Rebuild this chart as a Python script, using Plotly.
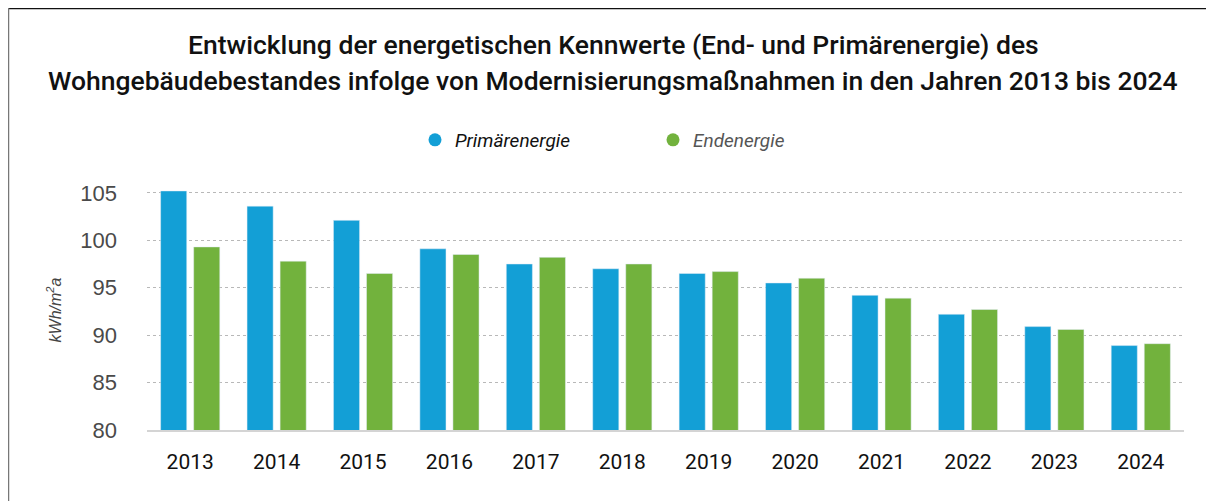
import plotly.graph_objects as go

years = ["2013", "2014", "2015", "2016", "2017", "2018", "2019", "2020", "2021", "2022", "2023", "2024"]
primaer = [105.2, 103.6, 102.1, 99.1, 97.5, 97.0, 96.5, 95.5, 94.2, 92.2, 90.9, 88.9]
enden = [99.3, 97.8, 96.5, 98.5, 98.2, 97.5, 96.7, 96.0, 93.9, 92.7, 90.6, 89.1]
y_ticks = [80, 85, 90, 95, 100, 105]
title_lines = [
    "Entwicklung der energetischen Kennwerte (End- und Primärenergie) des",
    "Wohngebäudebestandes infolge von Modernisierungsmaßnahmen in den Jahren 2013 bis 2024",
]

blue = "#139fd6"
green = "#72b23d"

# figure sits inside the page body (8px margin), so sizes are page - 8
W, H = 1206, 493
L, R, T, B = 139, 30, 182, 71
PW, PH = W - L - R, H - T - B

fig = go.Figure()
fig.add_trace(go.Bar(x=years, y=primaer, marker_color=blue, showlegend=False, name="Primärenergie"))
fig.add_trace(go.Bar(x=years, y=enden, marker_color=green, showlegend=False, name="Endenergie"))
fig.add_trace(go.Scatter(x=[None], y=[None], mode="markers",
                         marker=dict(color=blue, size=13, symbol="circle"),
                         name="<i><span style='color:#111'>Primärenergie</span></i>"))
fig.add_trace(go.Scatter(x=[None], y=[None], mode="markers",
                         marker=dict(color=green, size=13, symbol="circle"),
                         name="<i><span style='color:#555'>Endenergie</span></i>"))

def py(fig_y):
    return (H - B - fig_y) / PH

def px_(fig_x):
    return (fig_x - L) / PW

annotations = []
for line, cy in zip(title_lines, [45, 80]):
    annotations.append(dict(text=line, xref="paper", yref="paper", x=px_(605), y=py(cy - 8),
                            xanchor="center", yanchor="middle", showarrow=False,
                            font=dict(family="Roboto", size=26.5, color="#111", weight=500)))

fig.update_layout(
    width=W, height=H,
    margin=dict(l=L, r=R, t=T, b=B),
    paper_bgcolor="white", plot_bgcolor="white",
    barmode="group", bargap=0.235, bargroupgap=0.21,
    annotations=annotations,
    legend=dict(orientation="h", xref="container", yref="container",
                x=407 / W, xanchor="left", y=1 - 132 / H, yanchor="middle",
                font=dict(family="Roboto", size=19, color="#111"),
                entrywidth=193, itemclick=False),
    xaxis=dict(type="category", showgrid=False, ticks="",
               tickfont=dict(family="Roboto", size=21, color="#111"),
               ticklabelstandoff=12,
               showline=True, linecolor="#d4d4d4", linewidth=2),
    yaxis=dict(range=[80, 105.3], tickvals=y_ticks, ticks="",
               tickfont=dict(family="Liberation Sans", size=22, color="#4a4a4a"),
               showgrid=True, gridcolor="#b8b8b8", griddash="dot", gridwidth=1,
               zeroline=False, ticklabelstandoff=29,
               title=dict(text="<i>kWh/m<sup>2</sup>a</i>", standoff=14,
                          font=dict(family="Liberation Sans", size=16, color="#444"))),
    shapes=[
        dict(type="line", xref="paper", yref="paper", x0=px_(0), x1=px_(W), y0=py(0.5), y1=py(0.5),
             line=dict(color="#111", width=1.5)),
        dict(type="line", xref="paper", yref="paper", x0=px_(0.5), x1=px_(0.5), y0=py(0), y1=py(H),
             line=dict(color="#777", width=1.5)),
    ],
)

fig.write_html("out.html")
